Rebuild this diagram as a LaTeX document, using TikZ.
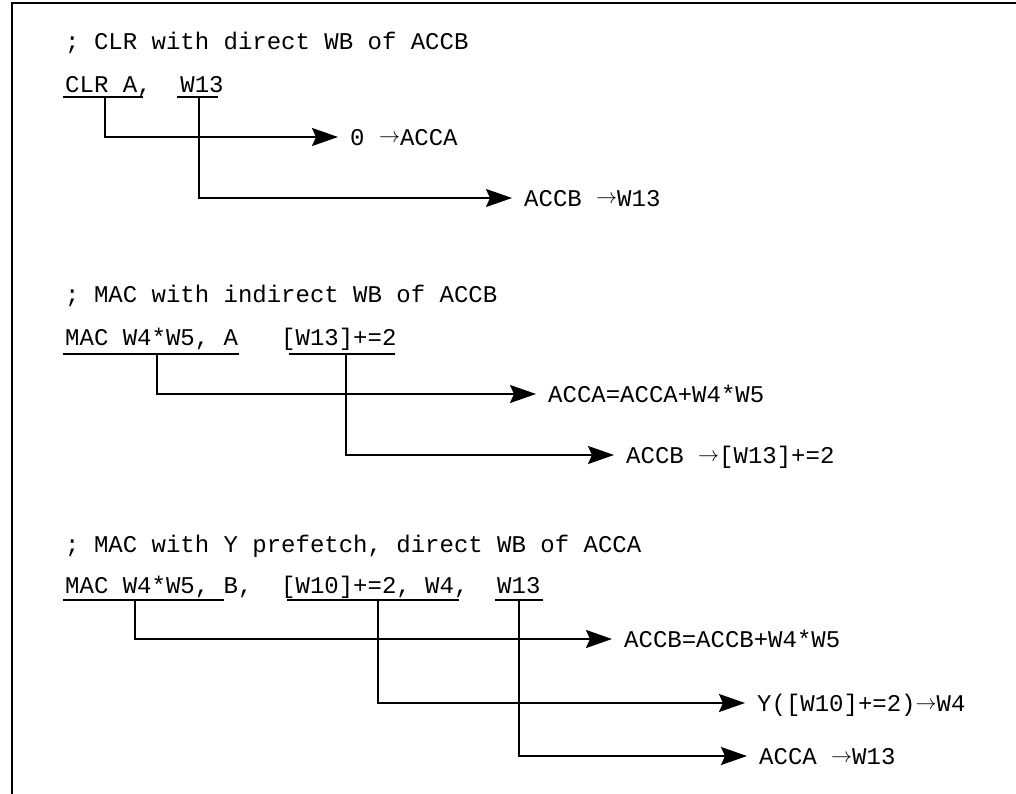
\RequirePackage{fix-cm}
\documentclass[tikz,border=0pt]{standalone}
\usepackage{fontspec}
\setmainfont{Liberation Mono}
\usetikzlibrary{arrows.meta}
\newcommand\myarrow{\raisebox{2.5pt}{\fontsize{21pt}{21pt}\selectfont$\rightarrow$}}
\begin{document}
\begin{tikzpicture}[x=1pt,y=-1pt,
  txt/.style={anchor=base west, inner sep=0pt, font=\fontsize{24pt}{28pt}\selectfont\frenchspacing},
  lbl/.style={anchor=west, inner xsep=12pt, inner ysep=0pt, text height=17pt, text depth=0pt, font=\fontsize{24pt}{28pt}\selectfont\frenchspacing},
  conn/.style={line width=2pt, -{Stealth[length=26pt,width=18pt,inset=4pt]}},
  uline/.style={line width=2pt},
  frameline/.style={line width=2.2pt}]
\useasboundingbox (0,0) rectangle (1016,794);
% frame (only top and left edges visible)
\draw[frameline] (12,800) -- (12,3) -- (1020,3);

% ---- block 1
\node[txt] (c1) at (65,50) {; CLR with direct WB of ACCB};
\node[txt] (k1) at (65,93) {CLR A,\ \ W13};
\draw[uline] (63,97) -- (143,97);
\draw[uline] (177,97) -- (218,97);
\coordinate (d1) at (105,97);
\coordinate (d2) at (199,97);
\node[lbl] (r1) at (338,137) {0 \myarrow ACCA};
\node[lbl] (r2) at (512,198) {ACCB \myarrow W13};
\draw[conn] (d1) |- (r1);
\draw[conn] (d2) |- (r2);

% ---- block 2
\node[txt] (c2) at (65,302) {; MAC with indirect WB of ACCB};
\node[txt] (k2) at (65,345) {MAC W4*W5, A\ \ \ [W13]+=2};
\draw[uline] (63,354) -- (239,354);
\draw[uline] (289,354) -- (395,354);
\coordinate (d3) at (157,354);
\coordinate (d4) at (346,354);
\node[lbl] (r3) at (536,394) {ACCA=ACCA+W4*W5};
\node[lbl] (r4) at (614,455) {ACCB \myarrow[W13]+=2};
\draw[conn] (d3) |- (r3);
\draw[conn] (d4) |- (r4);

% ---- block 3
\node[txt] (c3) at (65,552) {; MAC with Y prefetch, direct WB of ACCA};
\node[txt] (k3) at (65,593) {MAC W4*W5, B,\ \ [W10]+=2, W4,\ \ W13};
\draw[uline] (63,600) -- (224,600);
\draw[uline] (287,600) -- (459,600);
\draw[uline] (495,600) -- (543,600);
\coordinate (d5) at (135,600);
\coordinate (d6) at (378,600);
\coordinate (d7) at (519,600);
\node[lbl] (r5) at (612,639) {ACCB=ACCB+W4*W5};
\node[lbl] (r6) at (745,703) {Y([W10]+=2)\myarrow W4};
\node[lbl] (r7) at (747,756) {ACCA \myarrow W13};
\draw[conn] (d5) |- (r5);
\draw[conn] (d6) |- (r6);
\draw[conn] (d7) |- (r7);
\end{tikzpicture}
\end{document}
